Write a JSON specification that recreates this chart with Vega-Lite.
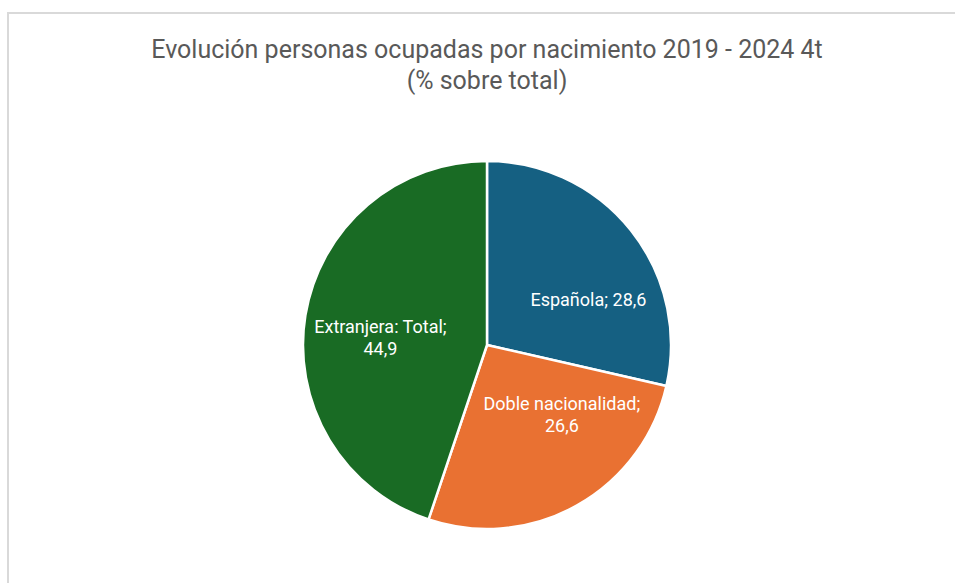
{
  "$schema": "https://vega.github.io/schema/vega-lite/v6.json",
  "width": 958,
  "height": 664,
  "autosize": {"type": "none"},
  "padding": {"left": 8, "top": 13, "right": 0, "bottom": 0},
  "background": "white",
  "view": {"stroke": "#d9d9d9", "strokeWidth": 2},
  "config": {
    "view": {"stroke": "#d9d9d9", "strokeWidth": 2},
    "font": "Roboto"
  },
  "title": {
    "text": ["Evolución personas ocupadas por nacimiento 2019 - 2024 4t", "(% sobre total)"],
    "anchor": "middle",
    "frame": "group",
    "orient": "top",
    "baseline": "top",
    "offset": -81,
    "fontSize": 25,
    "fontWeight": "normal",
    "color": "#595959",
    "font": "Roboto",
    "lineHeight": 31
  },
  "data": {
    "values": [
      {"categoria": "Española", "valor": 28.6, "orden": 1, "etiqueta": ["Española; 28,6"]},
      {"categoria": "Doble nacionalidad", "valor": 26.6, "orden": 2, "etiqueta": ["Doble nacionalidad;", "26,6"]},
      {"categoria": "Extranjera: Total", "valor": 44.9, "orden": 3, "etiqueta": ["Extranjera: Total;", "44,9"]}
    ]
  },
  "encoding": {
    "theta": {"field": "valor", "type": "quantitative", "stack": true},
    "order": {"field": "orden", "type": "quantitative"}
  },
  "layer": [
    {
      "mark": {"type": "arc", "outerRadius": 184, "stroke": "white", "strokeWidth": 2.5},
      "encoding": {
        "color": {
          "field": "categoria",
          "type": "nominal",
          "scale": {"domain": ["Española", "Doble nacionalidad", "Extranjera: Total"], "range": ["#156082", "#E97132", "#196B24"]},
          "legend": null
        }
      }
    },
    {
      "mark": {"type": "text", "radius": 108, "fontSize": 18, "color": "white", "font": "Roboto", "lineHeight": 22, "baseline": "middle", "dx": 17, "dy": 23},
      "encoding": {
        "text": {"condition": {"test": "datum.categoria === 'Española'", "field": "etiqueta"}, "value": ""}
      }
    },
    {
      "mark": {"type": "text", "radius": 108, "fontSize": 18, "color": "white", "font": "Roboto", "lineHeight": 22, "baseline": "middle", "dx": 22, "dy": -34},
      "encoding": {
        "text": {"condition": {"test": "datum.categoria === 'Doble nacionalidad'", "field": "etiqueta"}, "value": ""}
      }
    },
    {
      "mark": {"type": "text", "radius": 108, "fontSize": 18, "color": "white", "font": "Roboto", "lineHeight": 22, "baseline": "middle"},
      "encoding": {
        "text": {"condition": {"test": "datum.categoria === 'Extranjera: Total'", "field": "etiqueta"}, "value": ""}
      }
    }
  ]
}
